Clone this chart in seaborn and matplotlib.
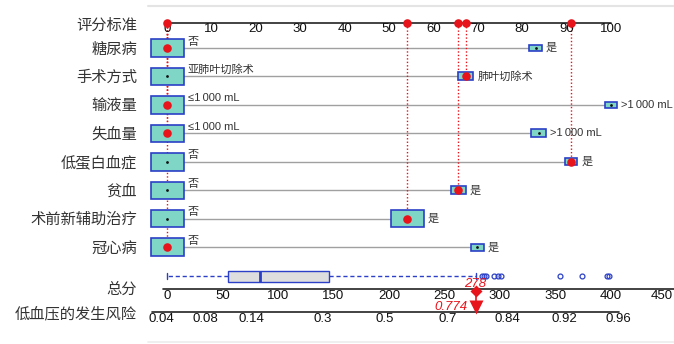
import numpy as np
import pandas as pd
import matplotlib
matplotlib.use("Agg")
import matplotlib.pyplot as plt
from matplotlib.patches import Rectangle
import seaborn as sns

# ---- nomogram data ----
variables = ["糖尿病", "手术方式", "输液量", "失血量", "低蛋白血症", "贫血", "术前新辅助治疗", "冠心病"]
ref_levels = ["否", "亚肺叶切除术", "≤1\u2009000 mL", "≤1\u2009000 mL", "否", "否", "否", "否"]
alt_levels = ["是", "肺叶切除术", ">1\u2009000 mL", ">1\u2009000 mL", "是", "是", "是", "是"]
alt_points = [83.0, 67.3, 100.0, 83.7, 91.0, 65.6, 54.1, 69.9]
ref_share = [0.87, 0.83, 0.88, 0.83, 0.87, 0.83, 0.50, 0.87]
alt_share = [0.13, 0.17, 0.12, 0.17, 0.13, 0.17, 0.50, 0.13]
patient_alt = [False, True, False, False, True, True, True, False]

score_ticks = list(range(0, 101, 10))
total_ticks = list(range(0, 451, 50))
risk_ticks = [0.04, 0.08, 0.14, 0.3, 0.5, 0.7, 0.84, 0.92, 0.96]
risk_tick_labels = ["0.04", "0.08", "0.14", "0.3", "0.5", "0.7", "0.84", "0.92", "0.96"]

# distribution of total points in the cohort
total_q1, total_median, total_q3 = 55, 84, 146
total_whisker_low, total_whisker_high = 0, 278
total_outliers = [283.5, 285.6, 287.4, 294.9, 297.9, 300.9, 354, 373.6, 396, 398.5]

# logistic model: linear predictor = intercept + slope * total points
intercept, slope = -2.97, 0.01511
TOTAL_PER_POINT = 4.0  # 100 item points correspond to 400 total points

# ---- styling ----
RED = "#e8141c"
BLUE = "#2b3fc7"
TEAL = "#80d6c6"
GREY_LINE = "#a0a0a0"
TXT = "#333333"
NUM_FONT = ["Liberation Sans", "DejaVu Sans"]
MIX_FONT = ["Liberation Sans", "Noto Sans CJK SC", "DejaVu Sans"]

sns.set_theme(style="white")
plt.rcParams["font.family"] = ["Noto Sans CJK SC", "DejaVu Sans"]

W, H = 674, 344
ORIGIN = 167.0   # pixel column of 0 points
SCALE = 4.44     # pixels per item point

fig = plt.figure(figsize=(W / 100, H / 100), dpi=100)
ax = fig.add_axes([0, 0, 1, 1])


def px(n):
    """horizontal pixel length -> item-point units"""
    return n / SCALE


def tot(t):
    """total points -> item-point axis units"""
    return np.asarray(t, dtype=float) / TOTAL_PER_POINT


top_y = 23
row_y = [48 + i * 28.45 for i in range(len(variables))]
box_y = 276
total_y = 289
risk_y = 312
label_x = px(137 - ORIGIN)
right_edge = px(W - ORIGIN)

# faint frame lines
ax.plot([px(148 - ORIGIN), right_edge], [6, 6], color="#e4e4e4", lw=1.5, zorder=0)
ax.plot([px(148 - ORIGIN), right_edge], [342, 342], color="#ececec", lw=1.2, zorder=0)

# points scale
ax.plot([0, 100], [top_y, top_y], color="#222222", lw=1.2, zorder=2)
for t in score_ticks:
    ax.text(t, top_y + 6, str(t), ha="center", va="center", fontsize=9.5,
            family=NUM_FONT, color="#111111")
ax.text(label_x, top_y + 2, "评分标准", ha="right", va="center", fontsize=11, color=TXT)

dots = []
for i, var in enumerate(variables):
    y = row_y[i]
    ax.plot([0, alt_points[i]], [y, y], color=GREY_LINE, lw=1.0, zorder=1)
    top_share = max(ref_share[i], alt_share[i])
    for xc, share in ((0.0, ref_share[i]), (alt_points[i], alt_share[i])):
        w = 33 * np.sqrt(share / top_share)
        h = 0.53 * w
        ax.add_patch(Rectangle((xc - px(w) / 2, y - h / 2), px(w), h,
                               facecolor=TEAL, edgecolor=BLUE, lw=1.2, zorder=3))
    w_ref = 33 * np.sqrt(ref_share[i] / top_share)
    w_alt = 33 * np.sqrt(alt_share[i] / top_share)
    ax.text(px(w_ref / 2 + 4), y - 1.5, ref_levels[i], ha="left", va="bottom",
            fontsize=8, family=MIX_FONT, color=TXT)
    ax.text(alt_points[i] + px(w_alt / 2 + 4), y, alt_levels[i], ha="left", va="center",
            fontsize=8, family=MIX_FONT, color=TXT)
    ax.text(label_x, y + 1, var, ha="right", va="center", fontsize=11, color=TXT)
    sel = alt_points[i] if patient_alt[i] else 0.0
    dots.append({"x": sel, "y": y})
    ax.plot([sel, sel], [top_y, y], color=RED, lw=1.0, ls=(0, (1, 1.5)), zorder=2)

center_df = pd.DataFrame({"x": [0.0] * len(variables) + alt_points,
                          "y": row_y + row_y})
sns.scatterplot(data=center_df, x="x", y="y", color="#111111", s=4, linewidth=0,
                ax=ax, legend=False, zorder=4)

chosen = pd.DataFrame(dots)
top_marks = pd.DataFrame({"x": sorted(set(chosen["x"])), "y": top_y})
sns.scatterplot(data=pd.concat([chosen, top_marks]), x="x", y="y", color=RED, s=38,
                linewidth=0, ax=ax, legend=False, zorder=5)

# total points: cohort distribution
stats = [{"med": tot(total_median), "q1": tot(total_q1), "q3": tot(total_q3),
          "whislo": tot(total_whisker_low), "whishi": tot(total_whisker_high),
          "fliers": tot(total_outliers)}]
ax.bxp(stats, positions=[box_y], widths=11, orientation="horizontal", patch_artist=True,
       capwidths=6, manage_ticks=False,
       boxprops=dict(facecolor="#dedede", edgecolor=BLUE, lw=1.0),
       medianprops=dict(color=BLUE, lw=2.0),
       whiskerprops=dict(color=BLUE, lw=1.0, ls=(0, (3, 2))),
       capprops=dict(color=BLUE, lw=1.0),
       flierprops=dict(marker="o", markerfacecolor="none", markeredgecolor=BLUE,
                       markersize=3.5, markeredgewidth=0.9))

ax.plot([px(163 - ORIGIN), right_edge], [total_y, total_y], color="#222222", lw=1.2, zorder=2)
for t in total_ticks:
    xp = tot(t)
    # keep the last label inside the figure edge
    if xp + px(11) > right_edge:
        ax.text(right_edge - px(1), total_y + 7, str(t), ha="right", va="center",
                fontsize=9.5, family=NUM_FONT, color="#111111")
    else:
        ax.text(xp, total_y + 7, str(t), ha="center", va="center", fontsize=9.5,
                family=NUM_FONT, color="#111111")
ax.text(label_x, total_y, "总分", ha="right", va="center", fontsize=11, color=TXT)

# risk scale from the logistic model
def risk_to_total(p):
    p = np.asarray(p, dtype=float)
    return (np.log(p / (1 - p)) - intercept) / slope

risk_pos = tot(risk_to_total(risk_ticks))
ax.plot([risk_pos[0], risk_pos[-1]], [risk_y, risk_y], color="#222222", lw=1.2, zorder=2)
for k, (xp, lab) in enumerate(zip(risk_pos, risk_tick_labels)):
    ax.text(xp - (px(3) if k == 0 else 0), risk_y + 7, lab,
            ha="left" if k == 0 else "center", va="center", fontsize=9.5,
            family=NUM_FONT, color="#111111")
ax.text(label_x, risk_y + 2, "低血压的发生风险", ha="right", va="center", fontsize=11, color=TXT)

# patient's total and predicted risk
patient_total = sum(p for p, s in zip(alt_points, patient_alt) if s)
patient_risk = 1 / (1 + np.exp(-(intercept + slope * patient_total)))
xt = tot(patient_total)
ax.plot([xt, xt], [total_y + 1, risk_y - 6], color=RED, lw=1.2, zorder=5)
ax.plot([xt], [total_y + 1.5], marker="D", ms=6.5, color=RED, mec="none", zorder=6)
ax.plot([xt], [risk_y - 5], marker="v", ms=10, color=RED, mec="none", zorder=6)
ax.text(xt, total_y - 5, f"{patient_total:.0f}", ha="center", va="center", fontsize=9.5,
        style="italic", color=RED, family=NUM_FONT, zorder=7)
ax.text(xt - px(8), risk_y - 4.5, f"{patient_risk:.3f}", ha="right", va="center",
        fontsize=9.5, style="italic", color=RED, family=NUM_FONT, zorder=7)

ax.set_xlim(-ORIGIN / SCALE, (W - ORIGIN) / SCALE)
ax.set_ylim(H, 0)
ax.axis("off")
fig.savefig("out.png", dpi=100, facecolor="white")
